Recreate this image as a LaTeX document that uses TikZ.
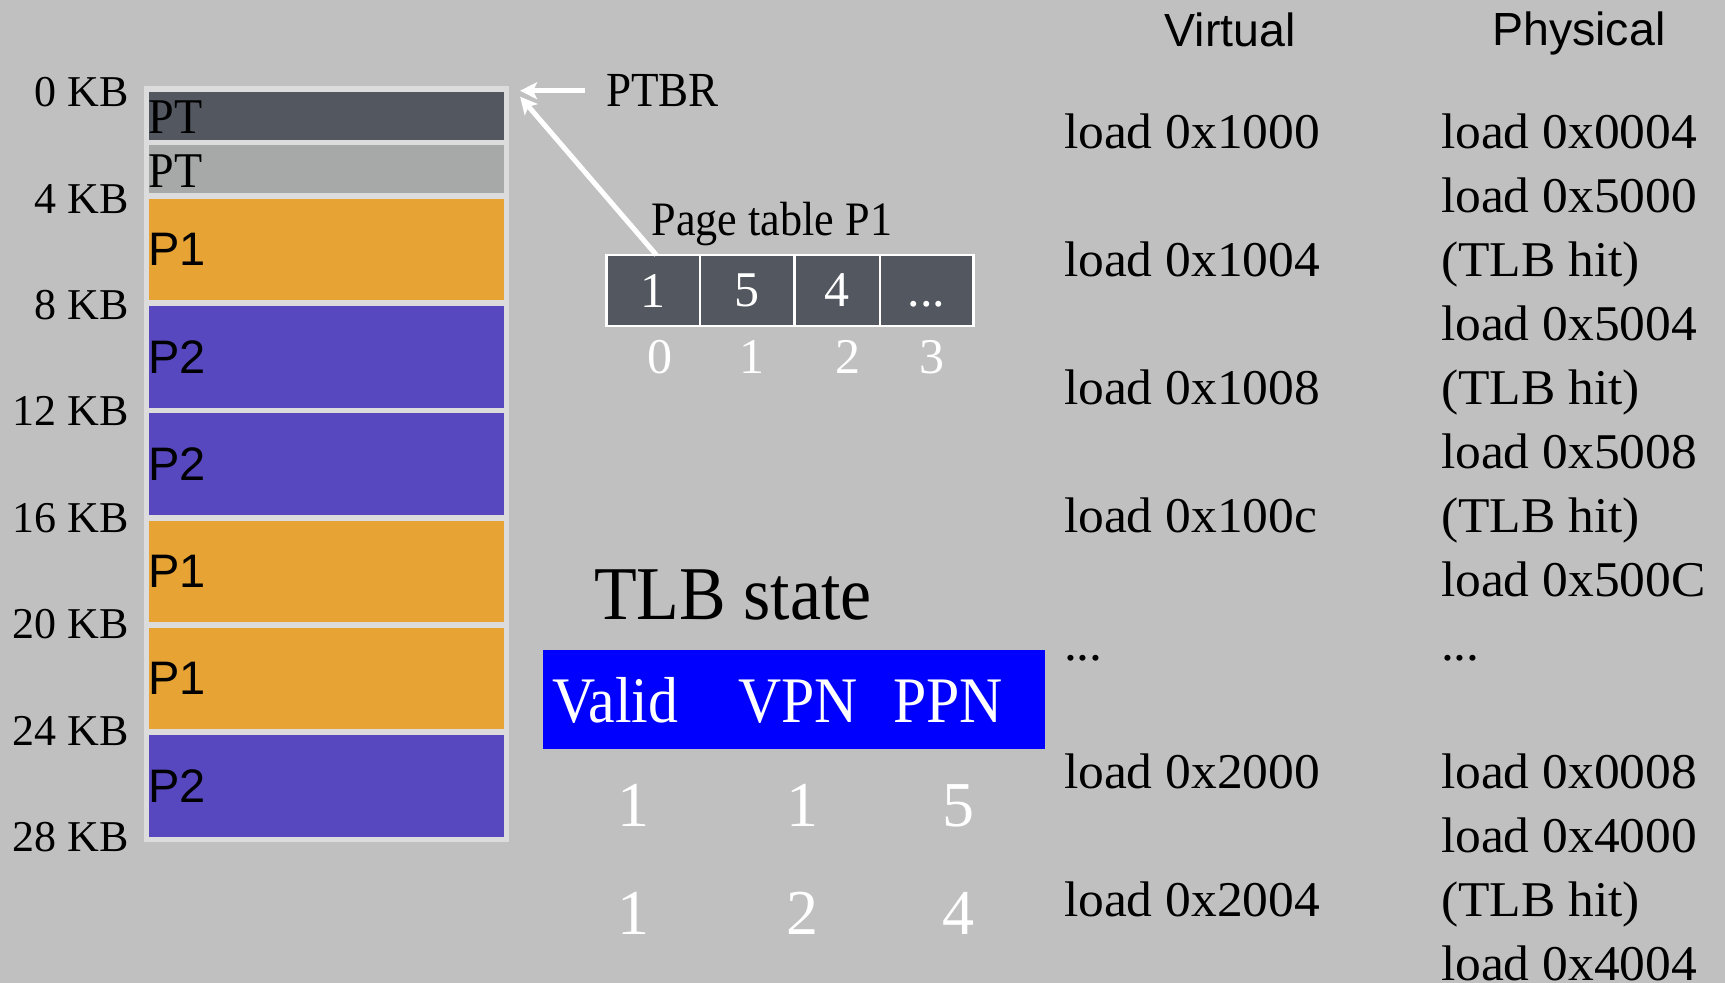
\documentclass[tikz,border=0pt]{standalone}
\usepackage{fontspec}
\setmainfont{Liberation Serif}
\newfontfamily\goudy[FakeStretch=0.92]{Liberation Serif}
\newfontfamily\opfont[FakeStretch=1.03]{Liberation Serif}
\newfontfamily\hsans{Liberation Sans}
\usetikzlibrary{arrows.meta}
\definecolor{bg}{RGB}{192,192,192}
\definecolor{memedge}{RGB}{220,220,221}
\definecolor{ptdark}{RGB}{82,87,96}
\definecolor{ptgray}{RGB}{166,169,168}
\definecolor{porange}{RGB}{231,163,52}
\definecolor{ppurple}{RGB}{87,72,192}
\definecolor{tlbblue}{RGB}{0,0,255}
\newcommand\fsz[1]{\fontsize{#1pt}{#1pt}\selectfont}
\newcommand\moredots{.\kern0pt.\kern0pt.}

\begin{document}
\begin{tikzpicture}[x=1pt,y=-1pt,
  txt/.style={inner sep=0pt, outer sep=0pt},
  kb/.style={txt, anchor=base east, font=\fsz{44}},
  blk/.style={fill=#1, draw=none, minimum width=355pt, anchor=north west,
              inner sep=0pt, outer sep=0pt},
  ptlab/.style={txt, anchor=west, font=\goudy\fsz{50}},
  plab/.style={txt, anchor=west, font=\hsans\fsz{47}},
  cell/.style={fill=ptdark, draw=white, line width=2.5pt, minimum height=71pt,
               minimum width=#1, anchor=north west, inner sep=0pt, outer sep=0pt,
               text=white, font=\fsz{50}},
  idx/.style={txt, anchor=base, text=white, font=\fsz{50}},
  title/.style={txt, anchor=base west, font=\goudy\fsz{#1}},
  hdr/.style={txt, anchor=base west, text=white, font=\goudy\fsz{65}},
  tlbnum/.style={txt, anchor=base, text=white, font=\fsz{64}},
  colhead/.style={txt, anchor=base, font=\hsans\fsz{46.5}},
  op/.style={txt, anchor=base west, font=\opfont\fsz{50}},
  ptr/.style={draw=white, line width=5pt,
              -{Stealth[length=17pt,width=17pt,inset=4pt]}}
]
% canvas
\fill[bg] (0,0) rectangle (1725,983);
\useasboundingbox (0,0) rectangle (1725,983);

% physical memory column
\node[fill=memedge, minimum width=364.6pt, minimum height=756pt, anchor=north west,
      inner sep=0pt, outer sep=0pt] (mem) at (144,86) {};
\node[blk=ptdark,  minimum height=48pt]    (b0) at (148.6,91.6)  {};
\node[blk=ptgray,  minimum height=48pt]    (b1) at (148.6,145.2) {};
\node[blk=porange, minimum height=101.6pt] (b2) at (148.6,198.8) {};
\node[blk=ppurple, minimum height=101.7pt] (b3) at (148.6,306.0) {};
\node[blk=ppurple, minimum height=101.6pt] (b4) at (148.6,413.3) {};
\node[blk=porange, minimum height=101.7pt] (b5) at (148.6,520.5) {};
\node[blk=porange, minimum height=101.6pt] (b6) at (148.6,627.8) {};
\node[blk=ppurple, minimum height=101.6pt] (b7) at (148.6,735.0) {};

\node[ptlab] (l0) at ([yshift=-1.5pt]b0.west) {PT};
\node[ptlab] (l1) at ([yshift=-1.5pt]b1.west) {PT};
\node[plab]  (l2) at (b2.west) {P1};
\node[plab]  (l3) at (b3.west) {P2};
\node[plab]  (l4) at (b4.west) {P2};
\node[plab]  (l5) at (b5.west) {P1};
\node[plab]  (l6) at (b6.west) {P1};
\node[plab]  (l7) at (b7.west) {P2};

% address labels
\foreach \k in {0,1,2,3,4,5,6,7}{
  \pgfmathsetmacro{\kbval}{int(4*\k)}
  \node[kb] (kb\k) at (129,106.7+106.43*\k) {\kbval\ KB};
}

% page table base register
\node[title=49] (ptbr) at (606,106.7) {PTBR};
\coordinate (memtip)  at ([xshift=11.5pt]mem.north east);
\coordinate (memtipB) at ([xshift=11.5pt,yshift=-10.7pt]mem.north east);
\draw[ptr] ([xshift=-21pt]ptbr.west) -- (memtip |- ptbr.west);

% page table of P1
\node[title=48] (ptt) at (651.7,235) {Page table P1};
\node[cell=93.3pt] (c0) at (606.7,255) {1};
\node[cell=94.3pt] (c1) at (c0.north east) {5};
\node[cell=85.7pt] (c2) at (c1.north east) {4};
\node[cell=93.3pt] (c3) at (c2.north east) {\vphantom{1}\moredots};
\node[idx] (i0) at (660,373.3)   {0};
\node[idx] (i1) at (751.7,373.3) {1};
\node[idx] (i2) at (848.3,373.3) {2};
\node[idx] (i3) at (931.7,373.3) {3};
\draw[ptr] ([xshift=3pt]c0.north) -- (memtipB);

% TLB contents
\node[title=76] (tlbt) at (594,619) {TLB state};
\node[fill=tlbblue, minimum width=502pt, minimum height=99pt, anchor=north west,
      inner sep=0pt, outer sep=0pt] (tlbh) at (542.8,650) {};
\node[hdr] (hv) at (552,722.7)   {Valid};
\node[hdr] (hp) at (738,722.7)   {VPN};
\node[hdr] (hq) at (893.4,722.7) {PPN};
\node[tlbnum] (r1a) at (633,826.7)   {1};
\node[tlbnum] (r1b) at (802,826.7)   {1};
\node[tlbnum] (r1c) at (958.7,826.7) {5};
\node[tlbnum] (r2a) at (633,934)     {1};
\node[tlbnum] (r2b) at (802,934)     {2};
\node[tlbnum] (r2c) at (958.7,934)   {4};

% access trace
\node[colhead] (vh) at (1230,46.5)  {Virtual};
\node[colhead] (ph) at (1578.8,45)  {Physical};
\foreach \k/\s in {0/load 0x1000, 1/load 0x1004, 2/load 0x1008, 3/load 0x100c,
                   4/\moredots, 5/load 0x2000, 6/load 0x2004}{
  \node[op] (v\k) at (1064,148.3+128.07*\k) {\s};
}
\foreach \j/\s in {0/load 0x0004, 1/load 0x5000, 2/(TLB hit), 3/load 0x5004,
                   4/(TLB hit), 5/load 0x5008, 6/(TLB hit), 7/load 0x500C,
                   8/\moredots, 10/load 0x0008, 11/load 0x4000, 12/(TLB hit),
                   13/load 0x4004}{
  \node[op] (p\j) at (1441,148.3+64.03*\j) {\s};
}
\end{tikzpicture}
\end{document}
